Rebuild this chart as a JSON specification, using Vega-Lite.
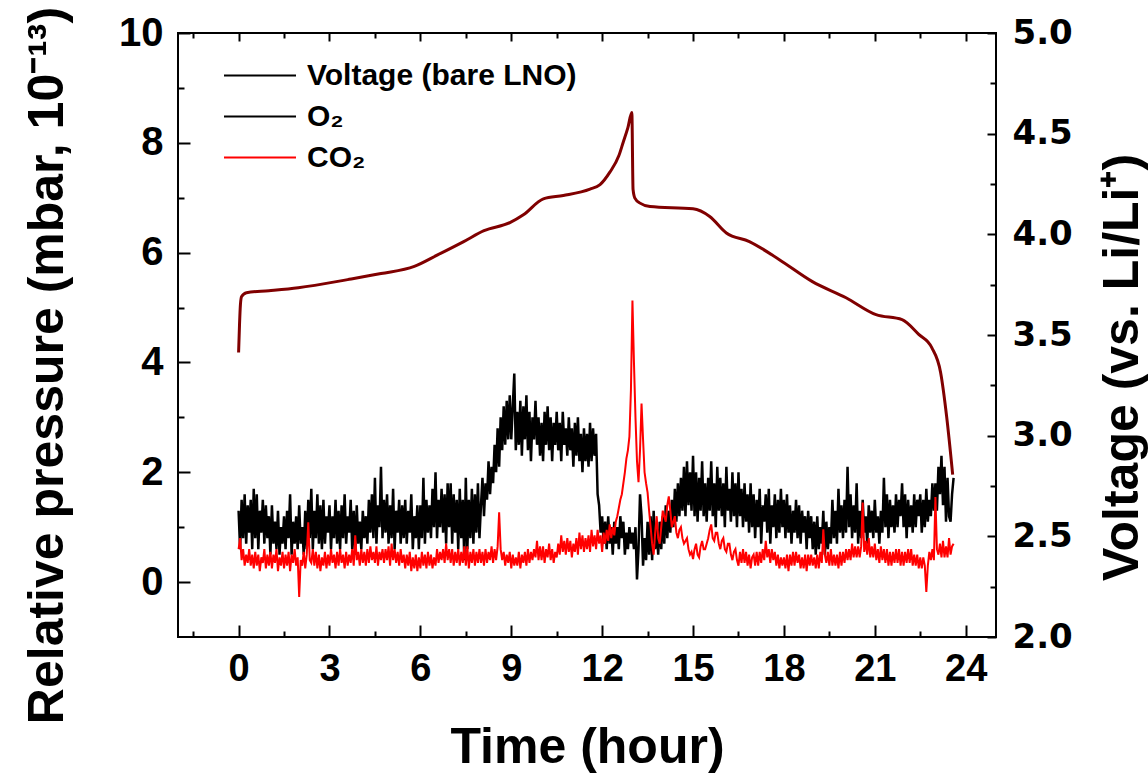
{
"$schema": "https://vega.github.io/schema/vega-lite/v6.json",
"width": 818, "height": 604,
"autosize": {"type": "none"},
"padding": {"left": 178, "top": 33, "right": 152, "bottom": 136},
"background": "white",
"config": {
 "view": {"stroke": "black", "strokeWidth": 2},
 "axis": {"grid": false, "domain": false, "tickColor": "black", "tickWidth": 2, "labelColor": "black", "titleColor": "black"}
},
"datasets": {
"gas": [
{"t":0,"o":1.3,"c":0.6},{"t":0.05,"o":0.6,"c":0.8},{"t":0.1,"o":1.5,"c":0.4},{"t":0.15,"o":0.8,"c":0.6},{"t":0.2,"o":1.6,"c":0.3},{"t":0.25,"o":0.7,"c":0.5},{"t":0.3,"o":1.4,"c":0.35},{"t":0.35,"o":0.9,"c":0.6},{"t":0.4,"o":1.5,"c":0.3},{"t":0.45,"o":0.6,"c":0.5},
{"t":0.5,"o":1.7,"c":0.25},{"t":0.55,"o":0.8,"c":0.55},{"t":0.6,"o":1.6,"c":0.3},{"t":0.65,"o":0.6,"c":0.5},{"t":0.7,"o":1.3,"c":0.2},{"t":0.75,"o":0.9,"c":0.45},{"t":0.8,"o":1.5,"c":0.35},{"t":0.85,"o":0.7,"c":0.6},{"t":0.9,"o":1.4,"c":0.25},{"t":0.95,"o":0.8,"c":0.5},
{"t":1.0,"o":1.2,"c":0.3},{"t":1.05,"o":0.5,"c":0.55},{"t":1.1,"o":1.4,"c":0.25},{"t":1.15,"o":0.7,"c":0.5},{"t":1.2,"o":1.1,"c":0.35},{"t":1.25,"o":0.6,"c":0.6},{"t":1.3,"o":1.3,"c":0.2},{"t":1.35,"o":0.5,"c":0.45},{"t":1.4,"o":1.0,"c":0.3},{"t":1.45,"o":0.7,"c":0.55},
{"t":1.5,"o":1.2,"c":0.25},{"t":1.55,"o":0.6,"c":0.5},{"t":1.6,"o":1.3,"c":0.3},{"t":1.65,"o":0.8,"c":0.55},{"t":1.7,"o":1.6,"c":0.2},{"t":1.75,"o":0.5,"c":0.5},{"t":1.8,"o":1.1,"c":0.35},{"t":1.85,"o":0.7,"c":0.6},{"t":1.9,"o":1.2,"c":0.3},{"t":1.95,"o":0.6,"c":0.45},
{"t":2.0,"o":1.4,"c":-0.27},{"t":2.05,"o":0.7,"c":0.4},{"t":2.1,"o":1.0,"c":0.3},{"t":2.15,"o":0.5,"c":0.55},{"t":2.2,"o":1.3,"c":0.25},{"t":2.25,"o":0.6,"c":0.5},{"t":2.3,"o":1.5,"c":1.09},{"t":2.35,"o":0.8,"c":0.4},{"t":2.4,"o":1.7,"c":0.35},{"t":2.45,"o":0.6,"c":0.6},
{"t":2.5,"o":1.3,"c":0.3},{"t":2.55,"o":0.8,"c":0.55},{"t":2.6,"o":1.6,"c":0.25},{"t":2.65,"o":0.7,"c":0.5},{"t":2.7,"o":1.4,"c":0.2},{"t":2.75,"o":0.6,"c":0.45},{"t":2.8,"o":1.5,"c":0.3},{"t":2.85,"o":0.7,"c":0.55},{"t":2.9,"o":1.2,"c":0.25},{"t":2.95,"o":0.9,"c":0.5},
{"t":3.0,"o":1.4,"c":0.3},{"t":3.05,"o":0.6,"c":0.6},{"t":3.1,"o":1.2,"c":0.35},{"t":3.15,"o":0.8,"c":0.5},{"t":3.2,"o":1.5,"c":0.25},{"t":3.25,"o":0.7,"c":0.55},{"t":3.3,"o":1.3,"c":0.3},{"t":3.35,"o":0.6,"c":0.6},{"t":3.4,"o":1.4,"c":0.35},{"t":3.45,"o":0.8,"c":0.5},
{"t":3.5,"o":1.6,"c":0.25},{"t":3.55,"o":0.7,"c":0.55},{"t":3.6,"o":1.2,"c":0.3},{"t":3.65,"o":0.9,"c":0.5},{"t":3.7,"o":1.5,"c":0.35},{"t":3.75,"o":0.6,"c":0.6},{"t":3.8,"o":1.3,"c":0.3},{"t":3.85,"o":0.5,"c":0.85},{"t":3.9,"o":1.4,"c":0.4},{"t":3.95,"o":0.7,"c":0.55},
{"t":4.0,"o":1.1,"c":0.3},{"t":4.05,"o":0.6,"c":0.6},{"t":4.1,"o":1.3,"c":0.35},{"t":4.15,"o":0.8,"c":0.55},{"t":4.2,"o":1.2,"c":0.3},{"t":4.25,"o":0.7,"c":0.6},{"t":4.3,"o":1.5,"c":0.35},{"t":4.35,"o":0.9,"c":0.65},{"t":4.4,"o":1.6,"c":0.4},{"t":4.45,"o":0.8,"c":0.55},
{"t":4.5,"o":1.9,"c":0.35},{"t":4.55,"o":0.7,"c":0.65},{"t":4.6,"o":1.4,"c":0.3},{"t":4.65,"o":1.0,"c":0.55},{"t":4.7,"o":2.1,"c":0.4},{"t":4.75,"o":0.8,"c":0.6},{"t":4.8,"o":1.5,"c":0.35},{"t":4.85,"o":0.9,"c":0.6},{"t":4.9,"o":1.6,"c":0.4},{"t":4.95,"o":0.7,"c":0.65},
{"t":5.0,"o":1.4,"c":0.3},{"t":5.05,"o":0.8,"c":0.7},{"t":5.1,"o":1.7,"c":0.4},{"t":5.15,"o":0.6,"c":0.6},{"t":5.2,"o":1.3,"c":0.35},{"t":5.25,"o":0.9,"c":0.55},{"t":5.3,"o":1.5,"c":0.3},{"t":5.35,"o":0.7,"c":0.6},{"t":5.4,"o":1.4,"c":0.35},{"t":5.45,"o":0.8,"c":0.5},
{"t":5.5,"o":1.5,"c":0.25},{"t":5.55,"o":0.7,"c":0.5},{"t":5.6,"o":1.3,"c":0.3},{"t":5.65,"o":0.9,"c":0.55},{"t":5.7,"o":1.6,"c":0.2},{"t":5.75,"o":0.6,"c":0.45},{"t":5.8,"o":1.2,"c":0.25},{"t":5.85,"o":0.8,"c":0.5},{"t":5.9,"o":1.4,"c":0.2},{"t":5.95,"o":0.6,"c":0.45},
{"t":6.0,"o":1.4,"c":0.25},{"t":6.05,"o":0.8,"c":0.55},{"t":6.1,"o":1.9,"c":0.3},{"t":6.15,"o":0.7,"c":0.5},{"t":6.2,"o":1.5,"c":0.25},{"t":6.25,"o":0.9,"c":0.55},{"t":6.3,"o":1.4,"c":0.3},{"t":6.35,"o":0.8,"c":0.5},{"t":6.4,"o":1.7,"c":0.25},{"t":6.45,"o":1.0,"c":0.45},
{"t":6.5,"o":2.0,"c":0.3},{"t":6.55,"o":0.8,"c":0.6},{"t":6.6,"o":1.5,"c":0.35},{"t":6.65,"o":1.0,"c":0.55},{"t":6.7,"o":1.7,"c":0.4},{"t":6.75,"o":0.9,"c":0.6},{"t":6.8,"o":1.6,"c":0.35},{"t":6.85,"o":0.7,"c":0.7},{"t":6.9,"o":1.8,"c":0.4},{"t":6.95,"o":1.0,"c":0.6},
{"t":7.0,"o":1.8,"c":0.35},{"t":7.05,"o":0.7,"c":0.6},{"t":7.1,"o":1.6,"c":0.3},{"t":7.15,"o":0.9,"c":0.55},{"t":7.2,"o":1.5,"c":0.35},{"t":7.25,"o":0.6,"c":0.6},{"t":7.3,"o":1.7,"c":0.3},{"t":7.35,"o":0.8,"c":0.55},{"t":7.4,"o":1.5,"c":0.35},{"t":7.45,"o":0.4,"c":0.65},
{"t":7.5,"o":1.9,"c":0.3},{"t":7.55,"o":0.6,"c":0.65},{"t":7.6,"o":1.5,"c":0.25},{"t":7.65,"o":0.8,"c":0.55},{"t":7.7,"o":1.7,"c":0.35},{"t":7.75,"o":0.7,"c":0.6},{"t":7.8,"o":1.6,"c":0.3},{"t":7.85,"o":0.9,"c":0.55},{"t":7.9,"o":1.8,"c":0.35},{"t":7.95,"o":0.8,"c":0.6},
{"t":8.0,"o":1.4,"c":0.35},{"t":8.05,"o":1.9,"c":0.55},{"t":8.1,"o":1.2,"c":0.3},{"t":8.15,"o":1.8,"c":0.6},{"t":8.2,"o":1.5,"c":0.35},{"t":8.25,"o":2.2,"c":0.55},{"t":8.3,"o":1.6,"c":0.4},{"t":8.35,"o":2.1,"c":0.65},{"t":8.4,"o":1.8,"c":0.35},{"t":8.45,"o":2.5,"c":0.6},
{"t":8.5,"o":2.0,"c":0.4},{"t":8.55,"o":2.8,"c":0.65},{"t":8.6,"o":2.1,"c":1.27},{"t":8.65,"o":3.0,"c":0.6},{"t":8.7,"o":2.4,"c":0.4},{"t":8.75,"o":3.2,"c":0.55},{"t":8.8,"o":2.5,"c":0.3},{"t":8.85,"o":3.3,"c":0.5},{"t":8.9,"o":2.6,"c":0.35},{"t":8.95,"o":3.4,"c":0.55},
{"t":9.0,"o":2.6,"c":0.25},{"t":9.05,"o":3.2,"c":0.5},{"t":9.1,"o":3.8,"c":0.3},{"t":9.15,"o":2.4,"c":0.45},{"t":9.2,"o":3.1,"c":0.3},{"t":9.25,"o":2.5,"c":0.55},{"t":9.3,"o":3.3,"c":0.25},{"t":9.35,"o":2.3,"c":0.5},{"t":9.4,"o":3.2,"c":0.35},{"t":9.45,"o":2.6,"c":0.55},
{"t":9.5,"o":3.4,"c":0.3},{"t":9.55,"o":2.4,"c":0.6},{"t":9.6,"o":3.1,"c":0.35},{"t":9.65,"o":2.2,"c":0.55},{"t":9.7,"o":3.0,"c":0.4},{"t":9.75,"o":2.6,"c":0.6},{"t":9.8,"o":3.3,"c":0.45},{"t":9.85,"o":2.5,"c":0.75},{"t":9.9,"o":3.0,"c":0.4},{"t":9.95,"o":2.3,"c":0.65},
{"t":10.0,"o":2.9,"c":0.4},{"t":10.05,"o":2.2,"c":0.65},{"t":10.1,"o":3.1,"c":0.35},{"t":10.15,"o":2.5,"c":0.6},{"t":10.2,"o":3.2,"c":0.45},{"t":10.25,"o":2.4,"c":0.7},{"t":10.3,"o":3.0,"c":0.4},{"t":10.35,"o":2.2,"c":0.6},{"t":10.4,"o":2.9,"c":0.35},{"t":10.45,"o":2.5,"c":0.55},
{"t":10.5,"o":3.1,"c":0.45},{"t":10.55,"o":2.4,"c":0.7},{"t":10.6,"o":2.9,"c":0.5},{"t":10.65,"o":2.2,"c":0.85},{"t":10.7,"o":3.1,"c":0.55},{"t":10.75,"o":2.5,"c":0.75},{"t":10.8,"o":2.8,"c":0.5},{"t":10.85,"o":2.3,"c":0.8},{"t":10.9,"o":3.0,"c":0.55},{"t":10.95,"o":2.4,"c":0.75},
{"t":11.0,"o":2.8,"c":0.45},{"t":11.05,"o":2.1,"c":0.7},{"t":11.1,"o":2.9,"c":0.55},{"t":11.15,"o":2.3,"c":0.8},{"t":11.2,"o":3.0,"c":0.5},{"t":11.25,"o":2.2,"c":0.9},{"t":11.3,"o":2.7,"c":0.6},{"t":11.35,"o":2.0,"c":0.85},{"t":11.4,"o":2.8,"c":0.55},{"t":11.45,"o":2.2,"c":0.8},
{"t":11.5,"o":2.7,"c":0.6},{"t":11.55,"o":2.1,"c":0.85},{"t":11.6,"o":2.9,"c":0.55},{"t":11.65,"o":2.2,"c":0.95},{"t":11.7,"o":2.8,"c":0.65},{"t":11.75,"o":2.3,"c":0.85},{"t":11.8,"o":2.7,"c":0.6},{"t":11.85,"o":1.6,"c":0.95},{"t":11.9,"o":1.4,"c":0.7},{"t":11.95,"o":0.9,"c":0.85},
{"t":12.0,"o":1.2,"c":0.55},{"t":12.05,"o":0.7,"c":0.9},{"t":12.1,"o":1.1,"c":0.7},{"t":12.15,"o":0.6,"c":0.95},{"t":12.2,"o":1.2,"c":0.75},{"t":12.25,"o":0.7,"c":1.05},{"t":12.3,"o":1.0,"c":0.8},{"t":12.35,"o":0.5,"c":1.0},{"t":12.4,"o":1.1,"c":0.85},{"t":12.45,"o":0.7,"c":1.1},
{"t":12.5,"o":1.0,"c":1.2},{"t":12.55,"o":0.6,"c":1.35},{"t":12.6,"o":1.2,"c":1.5},{"t":12.65,"o":0.8,"c":1.6},{"t":12.7,"o":1.1,"c":1.8},{"t":12.75,"o":0.5,"c":2.0},{"t":12.8,"o":0.9,"c":2.25},{"t":12.85,"o":0.6,"c":2.4},{"t":12.9,"o":1.0,"c":2.65},{"t":12.95,"o":0.7,"c":3.5},
{"t":13.0,"o":0.9,"c":5.13},{"t":13.05,"o":0.6,"c":4.0},{"t":13.1,"o":1.0,"c":3.0},{"t":13.15,"o":0.05,"c":2.2},{"t":13.2,"o":0.6,"c":1.82},{"t":13.25,"o":1.6,"c":2.4},{"t":13.3,"o":1.2,"c":3.25},{"t":13.35,"o":0.3,"c":2.6},{"t":13.4,"o":0.8,"c":2.0},{"t":13.45,"o":0.4,"c":1.8},
{"t":13.5,"o":1.1,"c":1.63},{"t":13.55,"o":0.5,"c":1.3},{"t":13.6,"o":1.2,"c":1.0},{"t":13.65,"o":0.4,"c":0.7},{"t":13.7,"o":1.3,"c":0.5},{"t":13.75,"o":0.6,"c":0.9},{"t":13.8,"o":1.0,"c":1.2},{"t":13.85,"o":0.5,"c":0.8},{"t":13.9,"o":1.1,"c":0.7},{"t":13.95,"o":0.6,"c":1.0},
{"t":14.0,"o":1.2,"c":1.3},{"t":14.05,"o":0.7,"c":1.2},{"t":14.1,"o":1.4,"c":1.1},{"t":14.15,"o":0.8,"c":1.4},{"t":14.2,"o":1.3,"c":1.56},{"t":14.25,"o":0.9,"c":1.3},{"t":14.3,"o":1.5,"c":1.0},{"t":14.35,"o":1.0,"c":1.1},{"t":14.4,"o":1.7,"c":1.2},{"t":14.45,"o":1.1,"c":0.9},
{"t":14.5,"o":1.8,"c":0.8},{"t":14.55,"o":1.2,"c":0.95},{"t":14.6,"o":1.9,"c":1.0},{"t":14.65,"o":1.3,"c":0.8},{"t":14.7,"o":2.1,"c":0.7},{"t":14.75,"o":1.2,"c":0.75},{"t":14.8,"o":2.2,"c":0.8},{"t":14.85,"o":1.4,"c":0.6},{"t":14.9,"o":2.0,"c":0.5},{"t":14.95,"o":1.3,"c":0.55},
{"t":15.0,"o":2.3,"c":0.42},{"t":15.05,"o":1.2,"c":0.6},{"t":15.1,"o":2.0,"c":0.7},{"t":15.15,"o":1.1,"c":0.5},{"t":15.2,"o":1.9,"c":0.45},{"t":15.25,"o":1.3,"c":0.65},{"t":15.3,"o":2.2,"c":0.75},{"t":15.35,"o":1.2,"c":0.6},{"t":15.4,"o":1.8,"c":0.6},{"t":15.45,"o":1.1,"c":0.7},
{"t":15.5,"o":1.9,"c":0.8},{"t":15.55,"o":1.3,"c":0.95},{"t":15.6,"o":2.2,"c":1.05},{"t":15.65,"o":1.2,"c":0.8},{"t":15.7,"o":1.8,"c":0.75},{"t":15.75,"o":1.0,"c":0.9},{"t":15.8,"o":2.1,"c":0.9},{"t":15.85,"o":1.3,"c":0.7},{"t":15.9,"o":1.9,"c":0.6},{"t":15.95,"o":1.2,"c":0.75},
{"t":16.0,"o":1.8,"c":0.8},{"t":16.05,"o":1.0,"c":0.6},{"t":16.1,"o":2.1,"c":0.55},{"t":16.15,"o":1.3,"c":0.7},{"t":16.2,"o":1.7,"c":0.7},{"t":16.25,"o":1.1,"c":0.5},{"t":16.3,"o":2.0,"c":0.4},{"t":16.35,"o":1.2,"c":0.55},{"t":16.4,"o":1.8,"c":0.6},{"t":16.45,"o":1.0,"c":0.4},
{"t":16.5,"o":2.0,"c":0.3},{"t":16.55,"o":1.2,"c":0.55},{"t":16.6,"o":1.7,"c":0.35},{"t":16.65,"o":1.0,"c":0.6},{"t":16.7,"o":1.8,"c":0.35},{"t":16.75,"o":1.1,"c":0.55},{"t":16.8,"o":1.6,"c":0.3},{"t":16.85,"o":0.9,"c":0.5},{"t":16.9,"o":1.8,"c":0.25},{"t":16.95,"o":1.0,"c":0.45},
{"t":17.0,"o":1.6,"c":0.5},{"t":17.05,"o":0.8,"c":0.3},{"t":17.1,"o":1.5,"c":0.55},{"t":17.15,"o":1.0,"c":0.3},{"t":17.2,"o":1.7,"c":0.55},{"t":17.25,"o":0.7,"c":0.35},{"t":17.3,"o":1.4,"c":0.6},{"t":17.35,"o":1.1,"c":0.4},{"t":17.4,"o":1.6,"c":0.75},{"t":17.45,"o":0.9,"c":0.45},
{"t":17.5,"o":1.7,"c":0.6},{"t":17.55,"o":0.7,"c":0.35},{"t":17.6,"o":1.4,"c":0.6},{"t":17.65,"o":1.0,"c":0.4},{"t":17.7,"o":1.6,"c":0.55},{"t":17.75,"o":0.8,"c":0.3},{"t":17.8,"o":1.5,"c":0.5},{"t":17.85,"o":0.9,"c":0.25},{"t":17.9,"o":1.7,"c":0.45},{"t":17.95,"o":1.0,"c":0.3},
{"t":18.0,"o":1.5,"c":0.45},{"t":18.05,"o":0.8,"c":0.25},{"t":18.1,"o":1.6,"c":0.5},{"t":18.15,"o":0.9,"c":0.2},{"t":18.2,"o":1.4,"c":0.5},{"t":18.25,"o":0.7,"c":0.3},{"t":18.3,"o":1.3,"c":0.55},{"t":18.35,"o":0.9,"c":0.3},{"t":18.4,"o":1.5,"c":0.55},{"t":18.45,"o":0.8,"c":0.35},
{"t":18.5,"o":1.4,"c":0.5},{"t":18.55,"o":0.7,"c":0.25},{"t":18.6,"o":1.3,"c":0.45},{"t":18.65,"o":0.9,"c":0.25},{"t":18.7,"o":1.2,"c":0.5},{"t":18.75,"o":0.6,"c":0.2},{"t":18.8,"o":1.3,"c":0.5},{"t":18.85,"o":0.8,"c":0.3},{"t":18.9,"o":1.2,"c":0.5},{"t":18.95,"o":0.6,"c":0.3},
{"t":19.0,"o":1.1,"c":0.45},{"t":19.05,"o":0.5,"c":0.25},{"t":19.1,"o":1.2,"c":0.5},{"t":19.15,"o":0.6,"c":0.25},{"t":19.2,"o":1.0,"c":0.55},{"t":19.25,"o":0.7,"c":0.35},{"t":19.3,"o":1.3,"c":0.96},{"t":19.35,"o":0.5,"c":0.5},{"t":19.4,"o":1.1,"c":0.35},{"t":19.45,"o":0.6,"c":0.55},
{"t":19.5,"o":1.0,"c":0.3},{"t":19.55,"o":0.7,"c":0.6},{"t":19.6,"o":1.5,"c":0.3},{"t":19.65,"o":0.8,"c":0.5},{"t":19.7,"o":1.3,"c":0.3},{"t":19.75,"o":0.7,"c":0.5},{"t":19.8,"o":1.7,"c":0.25},{"t":19.85,"o":0.9,"c":0.55},{"t":19.9,"o":1.4,"c":0.3},{"t":19.95,"o":0.8,"c":0.55},
{"t":20.0,"o":1.5,"c":0.35},{"t":20.05,"o":0.9,"c":0.6},{"t":20.1,"o":2.1,"c":0.4},{"t":20.15,"o":1.0,"c":0.6},{"t":20.2,"o":1.6,"c":0.4},{"t":20.25,"o":0.8,"c":0.7},{"t":20.3,"o":1.4,"c":0.45},{"t":20.35,"o":0.9,"c":0.65},{"t":20.4,"o":1.8,"c":0.45},{"t":20.45,"o":0.7,"c":0.65},
{"t":20.5,"o":1.3,"c":0.45},{"t":20.55,"o":0.8,"c":0.65},{"t":20.6,"o":1.5,"c":1.45},{"t":20.65,"o":0.9,"c":0.55},{"t":20.7,"o":1.2,"c":0.75},{"t":20.75,"o":0.7,"c":0.5},{"t":20.8,"o":1.4,"c":0.8},{"t":20.85,"o":0.9,"c":0.45},{"t":20.9,"o":1.3,"c":0.65},{"t":20.95,"o":0.8,"c":0.45},
{"t":21.0,"o":1.5,"c":0.7},{"t":21.05,"o":0.9,"c":0.4},{"t":21.1,"o":1.2,"c":0.6},{"t":21.15,"o":0.7,"c":0.35},{"t":21.2,"o":1.3,"c":0.65},{"t":21.25,"o":0.9,"c":0.4},{"t":21.3,"o":1.9,"c":0.6},{"t":21.35,"o":1.0,"c":0.35},{"t":21.4,"o":1.6,"c":0.6},{"t":21.45,"o":0.8,"c":0.3},
{"t":21.5,"o":1.5,"c":0.55},{"t":21.55,"o":1.0,"c":0.3},{"t":21.6,"o":1.4,"c":0.55},{"t":21.65,"o":0.9,"c":0.35},{"t":21.7,"o":1.6,"c":0.6},{"t":21.75,"o":1.0,"c":0.35},{"t":21.8,"o":1.5,"c":0.6},{"t":21.85,"o":1.2,"c":0.3},{"t":21.9,"o":1.8,"c":0.55},{"t":21.95,"o":1.0,"c":0.3},
{"t":22.0,"o":1.6,"c":0.55},{"t":22.05,"o":0.8,"c":0.35},{"t":22.1,"o":1.5,"c":0.6},{"t":22.15,"o":1.0,"c":0.35},{"t":22.2,"o":1.4,"c":0.6},{"t":22.25,"o":0.9,"c":0.3},{"t":22.3,"o":1.6,"c":0.5},{"t":22.35,"o":1.0,"c":0.3},{"t":22.4,"o":1.5,"c":0.5},{"t":22.45,"o":1.2,"c":0.25},
{"t":22.5,"o":1.6,"c":0.45},{"t":22.55,"o":0.9,"c":0.25},{"t":22.6,"o":1.5,"c":0.45},{"t":22.65,"o":1.0,"c":0.3},{"t":22.7,"o":1.7,"c":-0.18},{"t":22.75,"o":1.1,"c":0.3},{"t":22.8,"o":1.5,"c":0.55},{"t":22.85,"o":1.2,"c":0.4},{"t":22.9,"o":1.8,"c":0.6},{"t":22.95,"o":1.3,"c":0.4},
{"t":23.0,"o":1.8,"c":1.55},{"t":23.05,"o":1.3,"c":0.6},{"t":23.1,"o":2.1,"c":0.5},{"t":23.15,"o":1.6,"c":0.7},{"t":23.2,"o":2.3,"c":0.45},{"t":23.25,"o":1.4,"c":0.75},{"t":23.3,"o":2.1,"c":0.45},{"t":23.35,"o":1.1,"c":0.65},{"t":23.4,"o":1.9,"c":0.45},{"t":23.45,"o":1.2,"c":0.8},
{"t":23.5,"o":1.1,"c":0.5},{"t":23.55,"o":1.6,"c":0.65},{"t":23.6,"o":1.9,"c":0.7}
],
"volt": [
{"t":0,"v":3.413},{"t":0.03,"v":3.55},{"t":0.06,"v":3.65},{"t":0.1,"v":3.691},{"t":0.26,"v":3.71},{"t":1.0,"v":3.72},{"t":1.97,"v":3.735},{"t":3.6,"v":3.775},{"t":4.7,"v":3.805},{"t":5.8,"v":3.841},{"t":6.57,"v":3.898},{"t":7.43,"v":3.964},{"t":8.1,"v":4.018},{"t":8.97,"v":4.059},{"t":9.4,"v":4.097},{"t":10.06,"v":4.176},{"t":10.72,"v":4.193},{"t":11.6,"v":4.225},{"t":11.93,"v":4.247},{"t":12.26,"v":4.31},{"t":12.55,"v":4.39},{"t":12.69,"v":4.455},{"t":12.85,"v":4.53},{"t":12.98,"v":4.605},{"t":13.02,"v":4.223},{"t":13.08,"v":4.18},{"t":13.25,"v":4.155},{"t":13.58,"v":4.138},{"t":15.0,"v":4.127},{"t":15.55,"v":4.089},{"t":16.1,"v":4.007},{"t":16.86,"v":3.964},{"t":17.85,"v":3.874},{"t":18.94,"v":3.765},{"t":20.05,"v":3.685},{"t":21.04,"v":3.601},{"t":21.9,"v":3.576},{"t":22.45,"v":3.503},{"t":22.88,"v":3.437},{"t":23.17,"v":3.315},{"t":23.37,"v":3.096},{"t":23.57,"v":2.807}
]
},
"layer": [
{
 "data": {"name": "gas"},
 "mark": {"type": "line", "strokeWidth": 2.5, "clip": true},
 "encoding": {
  "x": {"field": "t", "type": "quantitative",
   "scale": {"domain": [-2, 25], "nice": false, "zero": false},
   "axis": {"orient": "bottom", "values": [-1.5,0,1.5,3,4.5,6,7.5,9,10.5,12,13.5,15,16.5,18,19.5,21,22.5,24],
    "labelExpr": "datum.value % 3 == 0 ? datum.label : ''",
    "tickSize": {"condition": {"test": "datum.value % 3 == 0", "value": -12}, "value": -6},
    "labelFont": "Liberation Sans, Arial", "labelFontSize": 38, "labelFontWeight": "bold", "labelPadding": 25,
    "title": "Time (hour)", "titleFont": "Liberation Sans, Arial", "titleFontSize": 50, "titleFontWeight": "bold",
    "titleX": 409, "titleY": 125, "titleBaseline": "alphabetic", "titleAlign": "center"}},
  "y": {"field": "o", "type": "quantitative",
   "scale": {"domain": [-1, 10], "nice": false, "zero": false},
   "axis": {"orient": "left", "values": [0,1,2,3,4,5,6,7,8,9,10],
    "labelExpr": "datum.value % 2 == 0 ? datum.label : ''",
    "tickSize": {"condition": {"test": "datum.value % 2 == 0", "value": -12}, "value": -6},
    "labelFont": "Liberation Sans, Arial", "labelFontSize": 40, "labelFontWeight": "bold", "labelPadding": 27,
    "title": "Relative pressure (mbar, 10⁻¹³)", "titleFont": "Liberation Sans, Arial", "titleFontSize": 50, "titleFontWeight": "bold",
    "titleAngle": -90, "titleX": -116, "titleY": 332, "titleBaseline": "alphabetic", "titleAlign": "center"}},
  "color": {"datum": "O₂", "type": "nominal",
   "scale": {"domain": ["Voltage (bare LNO)", "O₂", "CO₂"], "range": ["#000000", "#000000", "#ff0000"]},
   "legend": {"orient": "none", "legendX": 45, "legendY": 22, "title": null,
    "symbolType": "stroke", "symbolSize": 5184, "symbolStrokeWidth": 2,
    "labelFont": "Liberation Sans, Arial", "labelFontSize": 30, "labelFontWeight": "bold", "labelColor": "black", "labelOffset": 10, "labelLimit": 500,
    "clipHeight": 41, "rowPadding": 0}}
 }
},
{
 "data": {"name": "gas"},
 "mark": {"type": "line", "strokeWidth": 2, "clip": true},
 "encoding": {
  "x": {"field": "t", "type": "quantitative", "scale": {"domain": [-2, 25], "nice": false, "zero": false}, "axis": null},
  "y": {"field": "c", "type": "quantitative", "scale": {"domain": [-1, 10], "nice": false, "zero": false}, "axis": null},
  "color": {"datum": "CO₂", "type": "nominal"}
 }
},
{
 "data": {"name": "volt"},
 "mark": {"type": "line", "strokeWidth": 3, "interpolate": "monotone", "clip": true, "stroke": "#800000"},
 "encoding": {
  "x": {"field": "t", "type": "quantitative", "scale": {"domain": [-2, 25], "nice": false, "zero": false},
   "axis": {"orient": "top", "values": [-1.5,0,1.5,3,4.5,6,7.5,9,10.5,12,13.5,15,16.5,18,19.5,21,22.5,24],
    "labels": false, "title": null,
    "tickSize": {"condition": {"test": "datum.value % 3 == 0", "value": -8}, "value": -5}}},
  "y": {"field": "v", "type": "quantitative",
   "scale": {"domain": [2, 5], "nice": false, "zero": false},
   "axis": {"orient": "right", "values": [2,2.25,2.5,2.75,3,3.25,3.5,3.75,4,4.25,4.5,4.75,5],
    "labelExpr": "(datum.value * 4) % 2 == 1 ? '' : format(datum.value, '.1f')",
    "tickSize": {"condition": {"test": "(datum.value * 4) % 2 == 0", "value": -9}, "value": -6},
    "labelFont": "DejaVu Sans", "labelFontSize": 34, "labelFontWeight": "bold", "labelPadding": 25,
    "title": "Voltage (vs. Li/Li⁺)", "titleFont": "Liberation Sans, Arial", "titleFontSize": 50, "titleFontWeight": "bold",
    "titleAngle": -90, "titleX": 141, "titleY": 334, "titleBaseline": "alphabetic", "titleAlign": "center"}}
 }
}
],
"resolve": {"scale": {"y": "independent"}, "axis": {"x": "independent", "y": "independent"}}
}
